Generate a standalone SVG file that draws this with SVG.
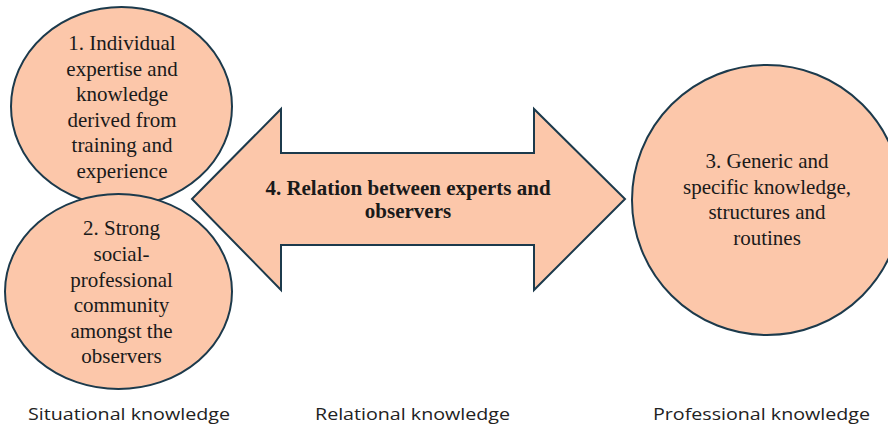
<svg xmlns="http://www.w3.org/2000/svg" width="888" height="427" viewBox="0 0 888 427">
<style>
.shape{fill:#FCC7AA;stroke:#1C3A4C;stroke-width:2}
.t{font-family:"Liberation Serif","Times New Roman",serif;font-size:21px;fill:#1a1a1a;text-anchor:middle}
.b{font-weight:bold}
.lab{font-family:"Open Sans","Liberation Sans",Arial,sans-serif;font-size:17px;fill:#222}
</style>
<rect width="888" height="427" fill="#fff"/>
<g id="connectors">
<g id="node4">
<polygon class="shape" points="192,199 281,109 281,153 534,153 534,109 625,199 534,290 534,245 281,245 281,290"/>
<text class="t b" x="408" y="195">4. Relation between experts and</text>
<text class="t b" x="408" y="218">observers</text>
</g>
</g>
<g id="node1">
<ellipse class="shape" cx="121.5" cy="106.5" rx="110.5" ry="99.5"/>
<text class="t" x="122" y="50">1. Individual</text>
<text class="t" x="122" y="75.5">expertise and</text>
<text class="t" x="122" y="101">knowledge</text>
<text class="t" x="122" y="126.5">derived from</text>
<text class="t" x="122" y="152">training and</text>
<text class="t" x="122" y="177.5">experience</text>
</g>
<g id="node2">
<ellipse class="shape" cx="118.5" cy="291.5" rx="113.5" ry="97.5"/>
<text class="t" x="121.5" y="235">2. Strong</text>
<text class="t" x="121.5" y="261">social-</text>
<text class="t" x="121.5" y="286.5">professional</text>
<text class="t" x="121.5" y="312">community</text>
<text class="t" x="121.5" y="337.5">amongst the</text>
<text class="t" x="121.5" y="363">observers</text>
</g>
<g id="node3">
<circle class="shape" cx="767" cy="200" r="135"/>
<text class="t" x="767" y="168">3. Generic and</text>
<text class="t" x="767" y="193.5">specific knowledge,</text>
<text class="t" x="767" y="219">structures and</text>
<text class="t" x="767" y="244.5">routines</text>
</g>
<g id="labels">
<text class="lab" x="28" y="420" textLength="202" lengthAdjust="spacingAndGlyphs">Situational knowledge</text>
<text class="lab" x="315" y="420" textLength="195" lengthAdjust="spacingAndGlyphs">Relational knowledge</text>
<text class="lab" x="653" y="420" textLength="217" lengthAdjust="spacingAndGlyphs">Professional knowledge</text>
</g>
</svg>
